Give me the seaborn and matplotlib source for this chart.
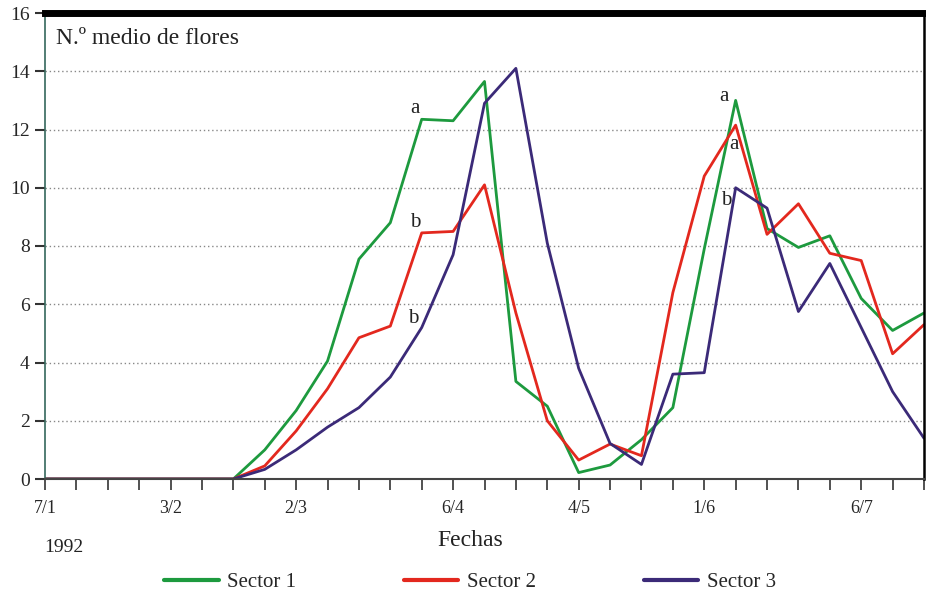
import numpy as np
import pandas as pd
import matplotlib
matplotlib.use("Agg")
import matplotlib.pyplot as plt
import seaborn as sns

# ---- data (weekly samples, index 0 = 7/1/1992) ----
semanas = list(range(29))
sector1 = [0, 0, 0, 0, 0, 0, 0, 1.0, 2.35, 4.05, 7.55, 8.8, 12.35, 12.3, 13.65, 3.35,
           2.5, 0.22, 0.48, 1.35, 2.45, 7.9, 13.0, 8.6, 7.95, 8.35, 6.2, 5.1, 5.7]
sector2 = [0, 0, 0, 0, 0, 0, 0, 0.45, 1.65, 3.1, 4.85, 5.25, 8.45, 8.5, 10.1, 5.7,
           2.0, 0.65, 1.2, 0.8, 6.4, 10.4, 12.15, 8.4, 9.45, 7.75, 7.5, 4.3, 5.3]
sector3 = [0, 0, 0, 0, 0, 0, 0, 0.33, 1.0, 1.78, 2.45, 3.5, 5.2, 7.7, 12.9, 14.1,
           8.1, 3.8, 1.22, 0.5, 3.6, 3.65, 10.0, 9.3, 5.75, 7.4, 5.2, 3.0, 1.4]
sectores = ["Sector 1", "Sector 2", "Sector 3"]
fecha_pos = [0, 4, 8, 13, 17, 21, 26]
fecha_lab = ["7/1", "3/2", "2/3", "6/4", "4/5", "1/6", "6/7"]
y_ticks = [0, 2, 4, 6, 8, 10, 12, 14, 16]
# significance letters: (sector, week index, letter, pixel offset)
letras = [("Sector 1", 12, "a", (-7, 11)), ("Sector 2", 12, "b", (-7, 10)),
          ("Sector 3", 12, "b", (-9, 9)), ("Sector 1", 22, "a", (-12, 4)),
          ("Sector 2", 22, "a", (-2, -19)), ("Sector 3", 22, "b", (-9, -13))]

colores = {"Sector 1": "#1d9a3e", "Sector 2": "#e3281e", "Sector 3": "#3b2a78"}

df = pd.DataFrame({
    "semana": semanas * 3,
    "flores": sector1 + sector2 + sector3,
    "Sector": [s for s in sectores for _ in semanas],
})

sns.set_theme(style="white")
plt.rcParams["font.family"] = ["Liberation Serif", "DejaVu Serif"]

fig = plt.figure(figsize=(9.26, 5.97), dpi=100)
W, H = 926, 597
ax = fig.add_axes([45 / W, 1 - 479 / H, (924 - 45) / W, (479 - 13) / H])

sns.lineplot(data=df, x="semana", y="flores", hue="Sector", palette=colores,
             linewidth=2.0, legend=False, ax=ax, estimator=None)

ax.set_xlim(0, 28)
ax.set_ylim(0, 16)
ax.set_xlabel("")
ax.set_ylabel("")

ax.set_yticks(y_ticks)
ax.set_yticklabels([str(v) for v in y_ticks], fontsize=14)
xt_labels = [""] * len(semanas)
for p, l in zip(fecha_pos, fecha_lab):
    xt_labels[p] = l
ax.set_xticks(semanas)
ax.set_xticklabels(xt_labels, fontsize=13)
ax.tick_params(axis="x", direction="out", length=8, width=1.2, color="#333333", pad=7,
               bottom=True)
ax.tick_params(axis="y", direction="out", length=7, width=1.5, color="#333333", pad=4,
               left=True)

for v in y_ticks[1:-1]:
    ax.axhline(v, color="#888888", linestyle=(0, (1, 2)), linewidth=1.0, zorder=0)

ax.spines["top"].set_linewidth(5)
ax.spines["top"].set_color("black")
ax.spines["right"].set_linewidth(1.8)
ax.spines["right"].set_color("black")
ax.spines["left"].set_linewidth(1.2)
ax.spines["left"].set_color("#35675c")
ax.spines["bottom"].set_linewidth(1.5)
ax.spines["bottom"].set_color("#444444")

ax.text(0.013, 0.945, "N.º medio de flores", transform=ax.transAxes, fontsize=17,
        ha="left", va="center", color="#222222")

series = {"Sector 1": sector1, "Sector 2": sector2, "Sector 3": sector3}
for s, i, letra, off in letras:
    ax.annotate(letra, xy=(semanas[i], series[s][i]), xytext=off,
                textcoords="offset pixels", ha="center", va="center",
                fontsize=15, color="#222222")

fig.text(64 / W, 1 - 547 / H, "1992", fontsize=14, ha="center", va="center",
         color="#222222")
fig.text(470 / W, 1 - 541 / H, "Fechas", fontsize=17, ha="center", va="center",
         color="#222222")

handles = [plt.Line2D([], [], color=colores[s], linewidth=3) for s in sectores]
fig.legend(handles, sectores, loc="center", bbox_to_anchor=(470 / W, 1 - 582 / H),
           ncol=3, frameon=False, fontsize=15, handlelength=2.6, handletextpad=0.4,
           columnspacing=5.2)

fig.savefig("out.png", dpi=100, facecolor="white")
